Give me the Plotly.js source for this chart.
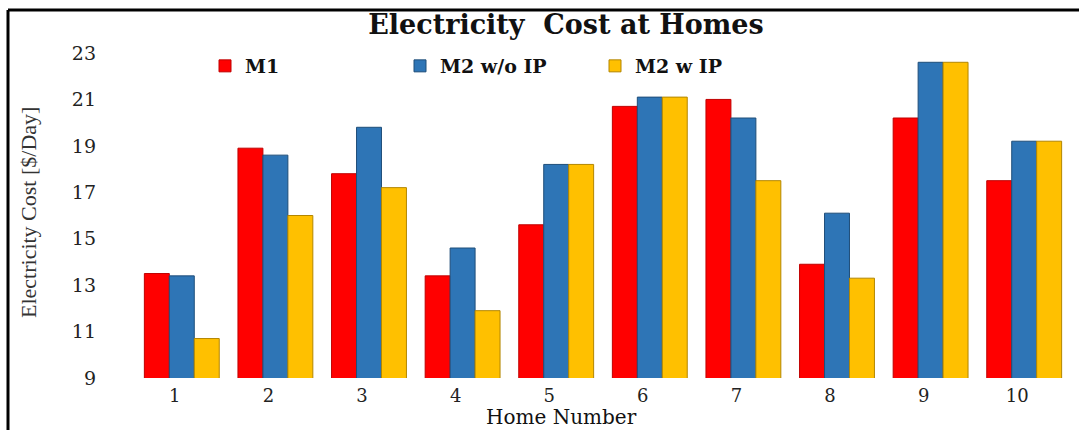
<!DOCTYPE html>
<html>
<head>
<meta charset="utf-8">
<script src="https://cdn.plot.ly/plotly-3.0.1.min.js"></script>
<style>
html,body{margin:0;padding:0;background:#fff;}
#chart{width:1079px;height:430px;}
</style>
</head>
<body>
<div id="chart"></div>
<script>
var homes = ['1','2','3','4','5','6','7','8','9','10'];
var seriesNames = ['M1','M2 w/o IP','M2 w IP'];
var m1      = [13.5, 18.9, 17.8, 13.4, 15.6, 20.7, 21.0, 13.9, 20.2, 17.5];
var m2NoIP  = [13.4, 18.6, 19.8, 14.6, 18.2, 21.1, 20.2, 16.1, 22.6, 19.2];
var m2IP    = [10.7, 16.0, 17.2, 11.9, 18.2, 21.1, 17.5, 13.3, 22.6, 19.2];
var yTicks  = [9, 11, 13, 15, 17, 19, 21, 23];

var colors = ['#ff0000', '#2e75b6', '#ffc000'];
var edge   = ['#c00000', '#1f4e79', '#b38600'];
var values = [m1, m2NoIP, m2IP];

var traces = values.map(function (v, i) {
  return {
    type: 'bar',
    name: seriesNames[i],
    x: homes,
    y: v,
    marker: {color: colors[i], line: {color: edge[i], width: 1}},
    hoverinfo: 'x+y+name'
  };
});

var L = 135, R = 8, T = 53, B = 52;
var W = 1079, H = 430;
var pw = W - L - R, ph = H - T - B;
function px2x(p){ return (p - L) / pw; }
function px2y(p){ return (H - B - p) / ph; }

var layout = {
  width: W, height: H,
  margin: {l: L, r: R, t: T, b: B, pad: 0},
  paper_bgcolor: '#ffffff',
  plot_bgcolor: '#ffffff',
  barmode: 'group',
  bargap: 0.2,
  bargroupgap: 0,
  showlegend: true,
  title: {
    text: '<b>Electricity  Cost at Homes</b>',
    x: 566 / W, xanchor: 'center',
    y: 1 - 25 / H, yanchor: 'middle',
    font: {family: 'DejaVu Serif', size: 27, color: '#111'}
  },
  legend: {
    orientation: 'h',
    x: px2x(205), xanchor: 'left',
    y: px2y(66), yanchor: 'middle',
    bgcolor: 'rgba(0,0,0,0)',
    font: {family: 'DejaVu Serif', size: 19, color: '#111', weight: 'bold'},
    itemwidth: 30,
    entrywidth: 150,
    traceorder: 'normal'
  },
  xaxis: {
    type: 'category',
    showgrid: false, zeroline: false, showline: false,
    ticks: '',
    ticklabelstandoff: 5,
    ticklabelshift: -7,
    tickfont: {family: 'DejaVu Serif', size: 18, color: '#222'}
  },
  yaxis: {
    range: [9, 23],
    tickvals: yTicks,
    ticktext: yTicks.map(String),
    showgrid: false, zeroline: false, showline: false,
    ticks: '',
    ticklabelstandoff: 38,
    tickfont: {family: 'DejaVu Serif', size: 19, color: '#222'}
  },
  annotations: [
    {
      text: 'Home Number',
      xref: 'paper', yref: 'paper',
      x: px2x(561), y: px2y(430),
      xanchor: 'center', yanchor: 'bottom',
      showarrow: false,
      borderpad: 0,
      font: {family: 'DejaVu Serif', size: 20, color: '#111'}
    },
    {
      text: 'Electricity Cost [$/Day]',
      xref: 'paper', yref: 'paper',
      x: px2x(28), y: px2y(213),
      xanchor: 'center', yanchor: 'middle',
      textangle: -90,
      showarrow: false,
      font: {family: 'Liberation Serif', size: 22, color: '#333'}
    }
  ],
  shapes: [
    {type: 'line', xref: 'paper', yref: 'paper',
     x0: px2x(8), x1: px2x(1079), y0: px2y(10), y1: px2y(10),
     line: {color: '#000', width: 3}},
    {type: 'line', xref: 'paper', yref: 'paper',
     x0: px2x(8), x1: px2x(8), y0: px2y(10), y1: px2y(430),
     line: {color: '#000', width: 3}}
  ]
};

Plotly.newPlot('chart', traces, layout, {displayModeBar: false, staticPlot: true});
</script>
</body>
</html>
